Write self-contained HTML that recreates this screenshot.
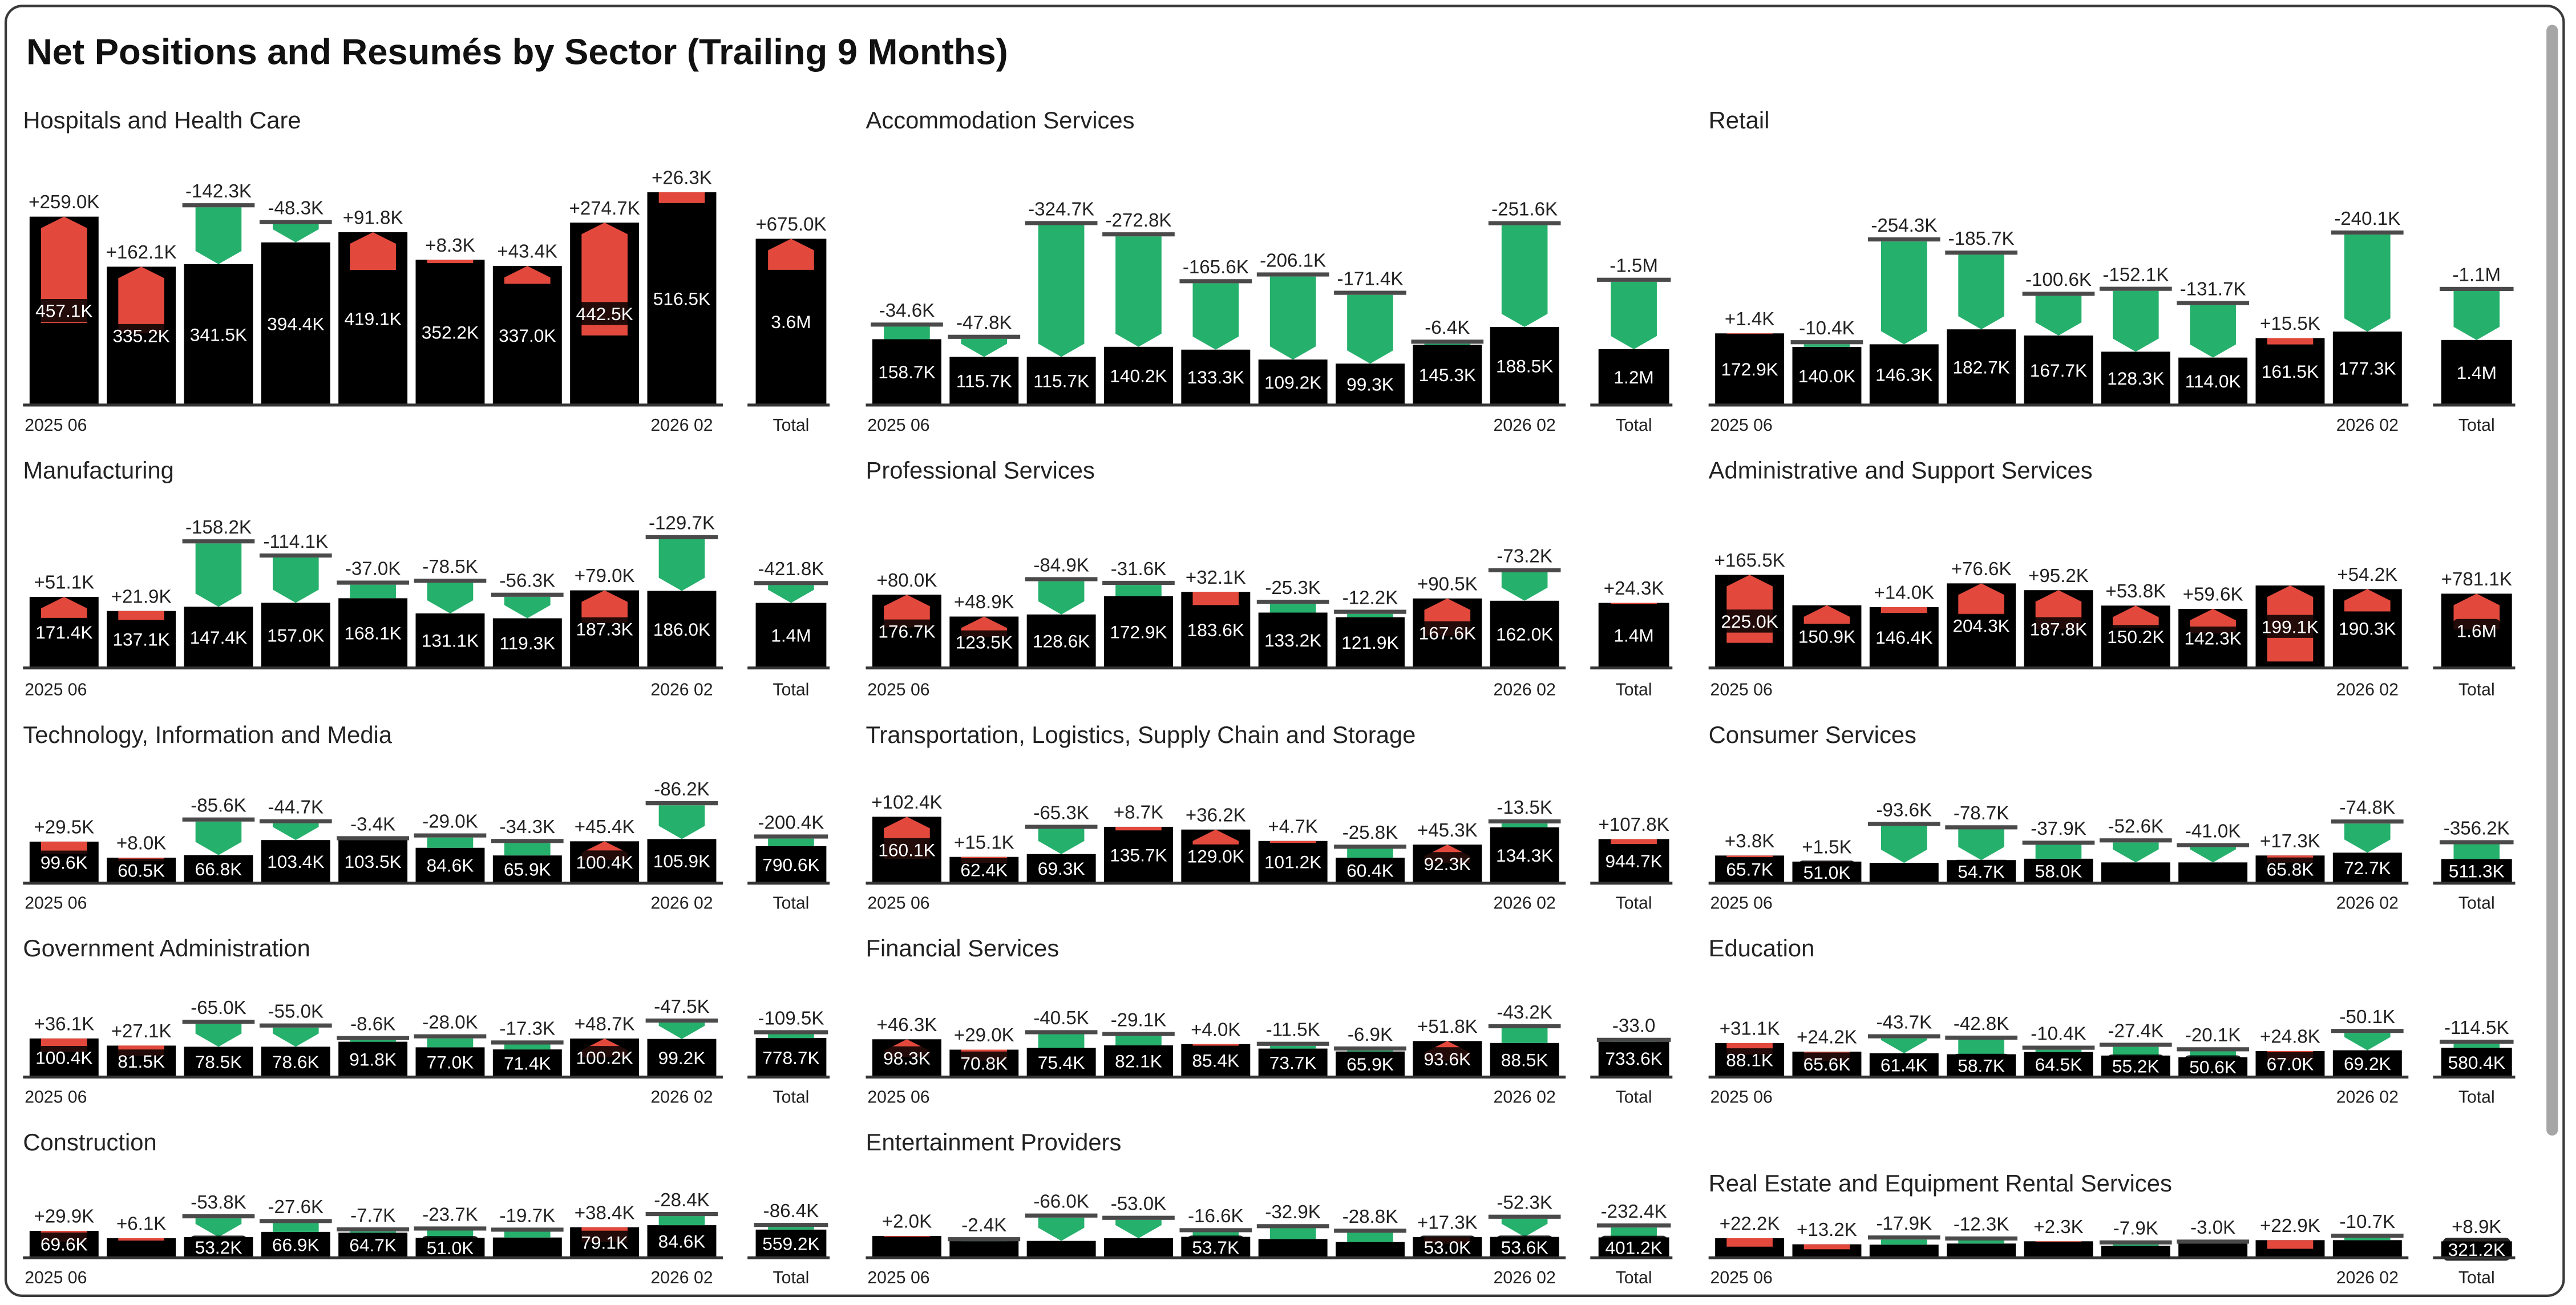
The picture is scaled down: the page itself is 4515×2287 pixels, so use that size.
<!DOCTYPE html>
<html><head><meta charset="utf-8">
<style>
html,body{margin:0;padding:0;background:#fff;}
svg{display:block;}
text{font-family:"Liberation Sans",sans-serif;}
</style></head>
<body>
<svg id="s" width="4515" height="2287" viewBox="0 0 1568 794" xmlns="http://www.w3.org/2000/svg"></svg>
<script>
const rows=[
 {ty:78,ax:246,k:.25,kt:.028,lab:262},
 {ty:291,ax:406,k:.25,kt:.028,lab:423},
 {ty:452,ax:537,k:.25,kt:.028,lab:553},
 {ty:582,ax:655,k:.23,kt:.03,lab:671},
 {ty:700,ax:765,k:.23,kt:.03,lab:781}
];
const P=[
{t:'Hospitals and Health Care',d:[259,162.1,-142.3,-48.3,91.8,8.3,43.4,274.7,26.3],v:[457.1,335.2,341.5,394.4,419.1,352.2,337.0,442.5,516.5],td:675,tv:3600,tdl:'+675.0K',tvl:'3.6M'},
{t:'Accommodation Services',d:[-34.6,-47.8,-324.7,-272.8,-165.6,-206.1,-171.4,-6.4,-251.6],v:[158.7,115.7,115.7,140.2,133.3,109.2,99.3,145.3,188.5],td:-1500,tv:1200,tdl:'-1.5M',tvl:'1.2M'},
{t:'Retail',d:[1.4,-10.4,-254.3,-185.7,-100.6,-152.1,-131.7,15.5,-240.1],v:[172.9,140.0,146.3,182.7,167.7,128.3,114.0,161.5,177.3],td:-1100,tv:1400,tdl:'-1.1M',tvl:'1.4M'},
{t:'Manufacturing',d:[51.1,21.9,-158.2,-114.1,-37.0,-78.5,-56.3,79.0,-129.7],v:[171.4,137.1,147.4,157.0,168.1,131.1,119.3,187.3,186.0],td:-421.8,tv:1400,tdl:'-421.8K',tvl:'1.4M'},
{t:'Professional Services',d:[80.0,48.9,-84.9,-31.6,32.1,-25.3,-12.2,90.5,-73.2],v:[176.7,123.5,128.6,172.9,183.6,133.2,121.9,167.6,162.0],td:24.3,tv:1400,tdl:'+24.3K',tvl:'1.4M'},
{t:'Administrative and Support Services',d:[165.5,45,14.0,76.6,95.2,53.8,59.6,185,54.2],v:[225.0,150.9,146.4,204.3,187.8,150.2,142.3,199.1,190.3],hd:[1,7],td:781.1,tv:1600,tdl:'+781.1K',tvl:'1.6M'},
{t:'Technology, Information and Media',d:[29.5,8.0,-85.6,-44.7,-3.4,-29.0,-34.3,45.4,-86.2],v:[99.6,60.5,66.8,103.4,103.5,84.6,65.9,100.4,105.9],td:-200.4,tv:790.6,tdl:'-200.4K',tvl:'790.6K'},
{t:'Transportation, Logistics, Supply Chain and Storage',d:[102.4,15.1,-65.3,8.7,36.2,4.7,-25.8,45.3,-13.5],v:[160.1,62.4,69.3,135.7,129.0,101.2,60.4,92.3,134.3],td:107.8,tv:944.7,tdl:'+107.8K',tvl:'944.7K'},
{t:'Consumer Services',d:[3.8,1.5,-93.6,-78.7,-37.9,-52.6,-41.0,17.3,-74.8],v:[65.7,51.0,48,54.7,58.0,49,49,65.8,72.7],hv:[2,5,6],td:-356.2,tv:511.3,tdl:'-356.2K',tvl:'511.3K'},
{t:'Government Administration',d:[36.1,27.1,-65.0,-55.0,-8.6,-28.0,-17.3,48.7,-47.5],v:[100.4,81.5,78.5,78.6,91.8,77.0,71.4,100.2,99.2],td:-109.5,tv:778.7,tdl:'-109.5K',tvl:'778.7K'},
{t:'Financial Services',d:[46.3,29.0,-40.5,-29.1,4.0,-11.5,-6.9,51.8,-43.2],v:[98.3,70.8,75.4,82.1,85.4,73.7,65.9,93.6,88.5],td:-0.033,tv:733.6,tdl:'-33.0',tvl:'733.6K'},
{t:'Education',d:[31.1,24.2,-43.7,-42.8,-10.4,-27.4,-20.1,24.8,-50.1],v:[88.1,65.6,61.4,58.7,64.5,55.2,50.6,67.0,69.2],td:-114.5,tv:580.4,tdl:'-114.5K',tvl:'580.4K'},
{t:'Construction',d:[29.9,6.1,-53.8,-27.6,-7.7,-23.7,-19.7,38.4,-28.4],v:[69.6,50,53.2,66.9,64.7,51.0,52,79.1,84.6],hv:[1,6],td:-86.4,tv:559.2,tdl:'-86.4K',tvl:'559.2K'},
{t:'Entertainment Providers',d:[2.0,-2.4,-66.0,-53.0,-16.6,-32.9,-28.8,17.3,-52.3],v:[56,44,43,50,53.7,48,40,53.0,53.6],hv:[0,1,2,3,5,6],td:-232.4,tv:401.2,tdl:'-232.4K',tvl:'401.2K'},
{t:'Real Estate and Equipment Rental Services',d:[22.2,13.2,-17.9,-12.3,2.3,-7.9,-3.0,22.9,-10.7],v:[50,34,33,36,42,30,37,45,45],hv:[0,1,2,3,4,5,6,7,8],td:8.9,tv:321.2,tdl:'+8.9K',tvl:'321.2K',tyo:25}
];
let h='';
h+='<rect x="0" y="0" width="1568" height="794" fill="#fff"/>';
h+='<rect x="3.5" y="3.5" width="1557" height="785" rx="10" fill="#fff" stroke="#3a3a3a" stroke-width="1.5"/>';
h+='<rect x="1550" y="15" width="7" height="676" rx="3.5" fill="#a6a6a6"/>';
h+='<text x="16" y="39" font-size="22" font-weight="bold" fill="#111">Net Positions and Resumés by Sector (Trailing 9 Months)</text>';
function fmt(x){return (x>=0?'+':'')+x.toFixed(1)+'K';}
function bar(x,w,base,v,d,k,showV,showD,vl,dl){
 const top=base-v*k, bh=v*k, cx=x+w/2, ax=cx-14;
 let o='<rect x="'+x+'" y="'+top+'" width="'+w+'" height="'+bh+'" fill="#000"/>';
 let len=Math.abs(d)*k, ly;
 if(d>=0){
  let y1=Math.min(top+len,base);len=y1-top;
  const ph=len>9?7:0;
  o+='<polygon points="'+[ax,y1,ax,top+ph,cx,top,ax+28,top+ph,ax+28,y1].join(',')+'" fill="#e2493c"/>';
  ly=top;
 } else {
  ly=top-len;
  const ph=len>10?8:0;
  o+='<polygon points="'+[ax,ly+1,ax+28,ly+1,ax+28,top-ph,cx,top,ax,top-ph].join(',')+'" fill="#25b06c"/>';
  o+='<rect x="'+(x-1)+'" y="'+(ly-1.5)+'" width="'+(w+2)+'" height="2.5" fill="#4a4a4a"/>';
 }
 if(showD) o+='<text x="'+cx+'" y="'+(ly-5)+'" font-size="11.5" fill="#222" text-anchor="middle">'+dl+'</text>';
 if(showV){
  const cy=top+bh/2, tw=vl.length*6.2+4;
  o+='<rect x="'+(cx-tw/2)+'" y="'+(cy-7)+'" width="'+tw+'" height="14" rx="3" fill="#000" fill-opacity="0.85"/>';
  o+='<text x="'+cx+'" y="'+(cy+4)+'" font-size="11" fill="#fff" text-anchor="middle">'+vl+'</text>';
 }
 return o;
}
P.forEach((p,i)=>{
 const r=rows[Math.floor(i/3)], px=14+513*(i%3), off=p.tyo||0;
 const base=r.ax;
 h+='<text x="'+px+'" y="'+(r.ty+off)+'" font-size="14.5" fill="#222">'+p.t+'</text>';
 const hd=p.hd||[], hv=p.hv||[];
 for(let j=0;j<9;j++){
  h+=bar(px+4+47*j,42,base,p.v[j],p.d[j],r.k,!hv.includes(j),!hd.includes(j),p.v[j].toFixed(1)+'K',fmt(p.d[j]));
 }
 h+=bar(px+446,43,base,p.tv,p.td,r.kt,true,true,p.tvl,p.tdl);
 h+='<rect x="'+px+'" y="'+(base-0.5)+'" width="426" height="1.8" fill="#333"/>';
 h+='<rect x="'+(px+441)+'" y="'+(base-0.5)+'" width="50" height="1.8" fill="#333"/>';
 h+='<text x="'+(px+1)+'" y="'+r.lab+'" font-size="10.5" fill="#222">2025 06</text>';
 h+='<text x="'+(px+4+47*8+21)+'" y="'+r.lab+'" font-size="10.5" fill="#222" text-anchor="middle">2026 02</text>';
 h+='<text x="'+(px+467.5)+'" y="'+r.lab+'" font-size="10.5" fill="#222" text-anchor="middle">Total</text>';
});
document.getElementById('s').innerHTML=h;
</script>
</body></html>
